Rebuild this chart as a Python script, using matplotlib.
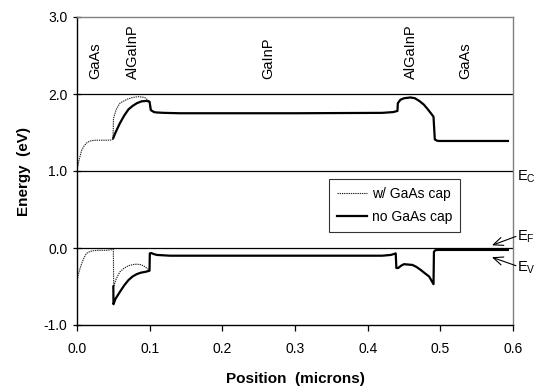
import matplotlib
matplotlib.use("Agg")
import matplotlib.pyplot as plt

plt.rcParams['font.family'] = ['Liberation Sans', 'DejaVu Sans']
plt.rcParams['mathtext.default'] = 'regular'

# ---- data ----
# Conduction band, w/ GaAs cap (dotted, differs only for x <= 0.1)
ec_cap_x = [0.0, 0.003, 0.0065, 0.010, 0.014, 0.018, 0.025, 0.035, 0.045, 0.0495, 0.0502, 0.054, 0.059, 0.0685, 0.0765, 0.0846, 0.090, 0.094, 0.0998, 0.101]
ec_cap_y = [1.01, 1.15, 1.27, 1.33, 1.37, 1.39, 1.40, 1.40, 1.40, 1.41, 1.68, 1.80, 1.88, 1.93, 1.955, 1.965, 1.96, 1.95, 1.90, 1.78]
# Valence band, w/ GaAs cap
ev_cap_x = [0.0, 0.003, 0.0065, 0.010, 0.013, 0.018, 0.0225, 0.030, 0.040, 0.049, 0.050, 0.0505, 0.054, 0.059, 0.065, 0.071, 0.077, 0.082, 0.087, 0.0915, 0.096, 0.0998]
ev_cap_y = [-0.42, -0.30, -0.20, -0.12, -0.07, -0.045, -0.035, -0.03, -0.03, -0.02, -0.02, -0.50, -0.40, -0.31, -0.26, -0.23, -0.215, -0.21, -0.215, -0.23, -0.26, -0.29]

# Conduction band, no GaAs cap (solid)
ec_x = [0.050, 0.053, 0.059, 0.065, 0.0708, 0.0765, 0.0823, 0.089, 0.096, 0.0998, 0.1017, 0.106, 0.110, 0.120, 0.142,
        0.300, 0.420, 0.435, 0.441, 0.4415, 0.445, 0.450, 0.459, 0.465, 0.471, 0.477, 0.482, 0.487, 0.4906,
        0.4924, 0.495, 0.498, 0.593]
ec_y = [1.43, 1.50, 1.62, 1.72, 1.80, 1.845, 1.88, 1.905, 1.91, 1.90, 1.79, 1.765, 1.76, 1.755, 1.75,
        1.75, 1.755, 1.765, 1.78, 1.88, 1.925, 1.945, 1.955, 1.945, 1.91, 1.865, 1.81, 1.75, 1.705,
        1.41, 1.395, 1.39, 1.39]
# Valence band, no GaAs cap
ev_x = [0.050, 0.0502, 0.053, 0.059, 0.065, 0.071, 0.0765, 0.082, 0.088, 0.094, 0.0998, 0.1002, 0.102, 0.106, 0.110, 0.128,
        0.300, 0.420, 0.432, 0.4386, 0.4395, 0.442, 0.446, 0.450, 0.4616, 0.467, 0.473, 0.479, 0.4846, 0.4906,
        0.4912, 0.493, 0.496, 0.593]
ev_y = [-0.50, -0.73, -0.66, -0.57, -0.485, -0.415, -0.37, -0.34, -0.32, -0.31, -0.295, -0.07, -0.065, -0.08, -0.09, -0.10,
        -0.10, -0.10, -0.09, -0.07, -0.26, -0.26, -0.23, -0.21, -0.22, -0.245, -0.285, -0.33, -0.37, -0.47,
        -0.05, -0.03, -0.025, -0.025]

region_labels = ["GaAs", "AlGaInP", "GaInP", "AlGaInP", "GaAs"]
region_x = [0.025, 0.077, 0.263, 0.459, 0.534]

x_ticks = [0.0, 0.1, 0.2, 0.3, 0.4, 0.5, 0.6]
y_ticks = [-1.0, 0.0, 1.0, 2.0, 3.0]

# ---- figure ----
fig = plt.figure(figsize=(5.35, 3.92), dpi=100)
ax = fig.add_axes([77/535, 1-325/392, (513-77)/535, (325-17)/392])

for yv in [0.0, 1.0, 2.0]:
    ax.axhline(yv, color='black', lw=0.9, zorder=1)

ax.plot(ec_cap_x, ec_cap_y, color='#222222', lw=0.8, ls=(0, (1.2, 0.8)), zorder=2, label='w/ GaAs cap')
ax.plot(ev_cap_x, ev_cap_y, color='#222222', lw=0.8, ls=(0, (1.2, 0.8)), zorder=2)
ax.plot(ec_x, ec_y, color='black', lw=1.6, zorder=3, label='no GaAs cap')
ax.plot(ev_x, ev_y, color='black', lw=1.6, zorder=3)

for lab, xv in zip(region_labels, region_x):
    ax.text(xv, 2.2, lab, rotation=90, ha='center', va='bottom', fontsize=10.5)

ax.set_xlim(0, 0.6)
ax.set_ylim(-1.0, 3.0)
ax.set_xticks(x_ticks)
ax.set_yticks(y_ticks)
ax.set_xticklabels([f"{v:.1f}" for v in x_ticks], fontsize=10)
ax.set_yticklabels([f"{v:.1f}" for v in y_ticks], fontsize=10)
ax.tick_params(axis='x', direction='out', length=4, width=0.9, pad=8)
ax.tick_params(axis='y', direction='inout', length=6, width=0.9, pad=4)

for s in ['left', 'bottom']:
    ax.spines[s].set_color('black')
    ax.spines[s].set_linewidth(1.0)
for s in ['right', 'top']:
    ax.spines[s].set_color('#808080')
    ax.spines[s].set_linewidth(1.0)

ax.set_xlabel('Position  (microns)', fontsize=11, fontweight='bold', labelpad=12)
ax.set_ylabel('Energy  (eV)', fontsize=11, fontweight='bold', labelpad=9)

leg = ax.legend(loc='upper left', bbox_to_anchor=(0.577, 0.474), fontsize=10,
                frameon=True, fancybox=False, edgecolor='black', handlelength=2.2,
                borderpad=0.6, labelspacing=0.6, handletextpad=0.3, borderaxespad=0.0)
leg.get_frame().set_linewidth(0.8)

# band labels and arrows (outside axes on right)
ax.text(0.606, 0.93, r'E$_C$', fontsize=10.5, ha='left', va='center', clip_on=False)
ax.text(0.606, 0.14, r'E$_F$', fontsize=10.5, ha='left', va='center', clip_on=False)
ax.text(0.606, -0.26, r'E$_V$', fontsize=10.5, ha='left', va='center', clip_on=False)
arrow_style = dict(arrowstyle='->,head_length=0.7,head_width=0.3', lw=0.8, color='black',
                   shrinkA=0, shrinkB=0)
ax.annotate('', xy=(0.571, 0.035), xytext=(0.604, 0.15),
            arrowprops=arrow_style, annotation_clip=False)
ax.annotate('', xy=(0.571, -0.12), xytext=(0.604, -0.23),
            arrowprops=arrow_style, annotation_clip=False)

fig.savefig('out.png', dpi=100)
